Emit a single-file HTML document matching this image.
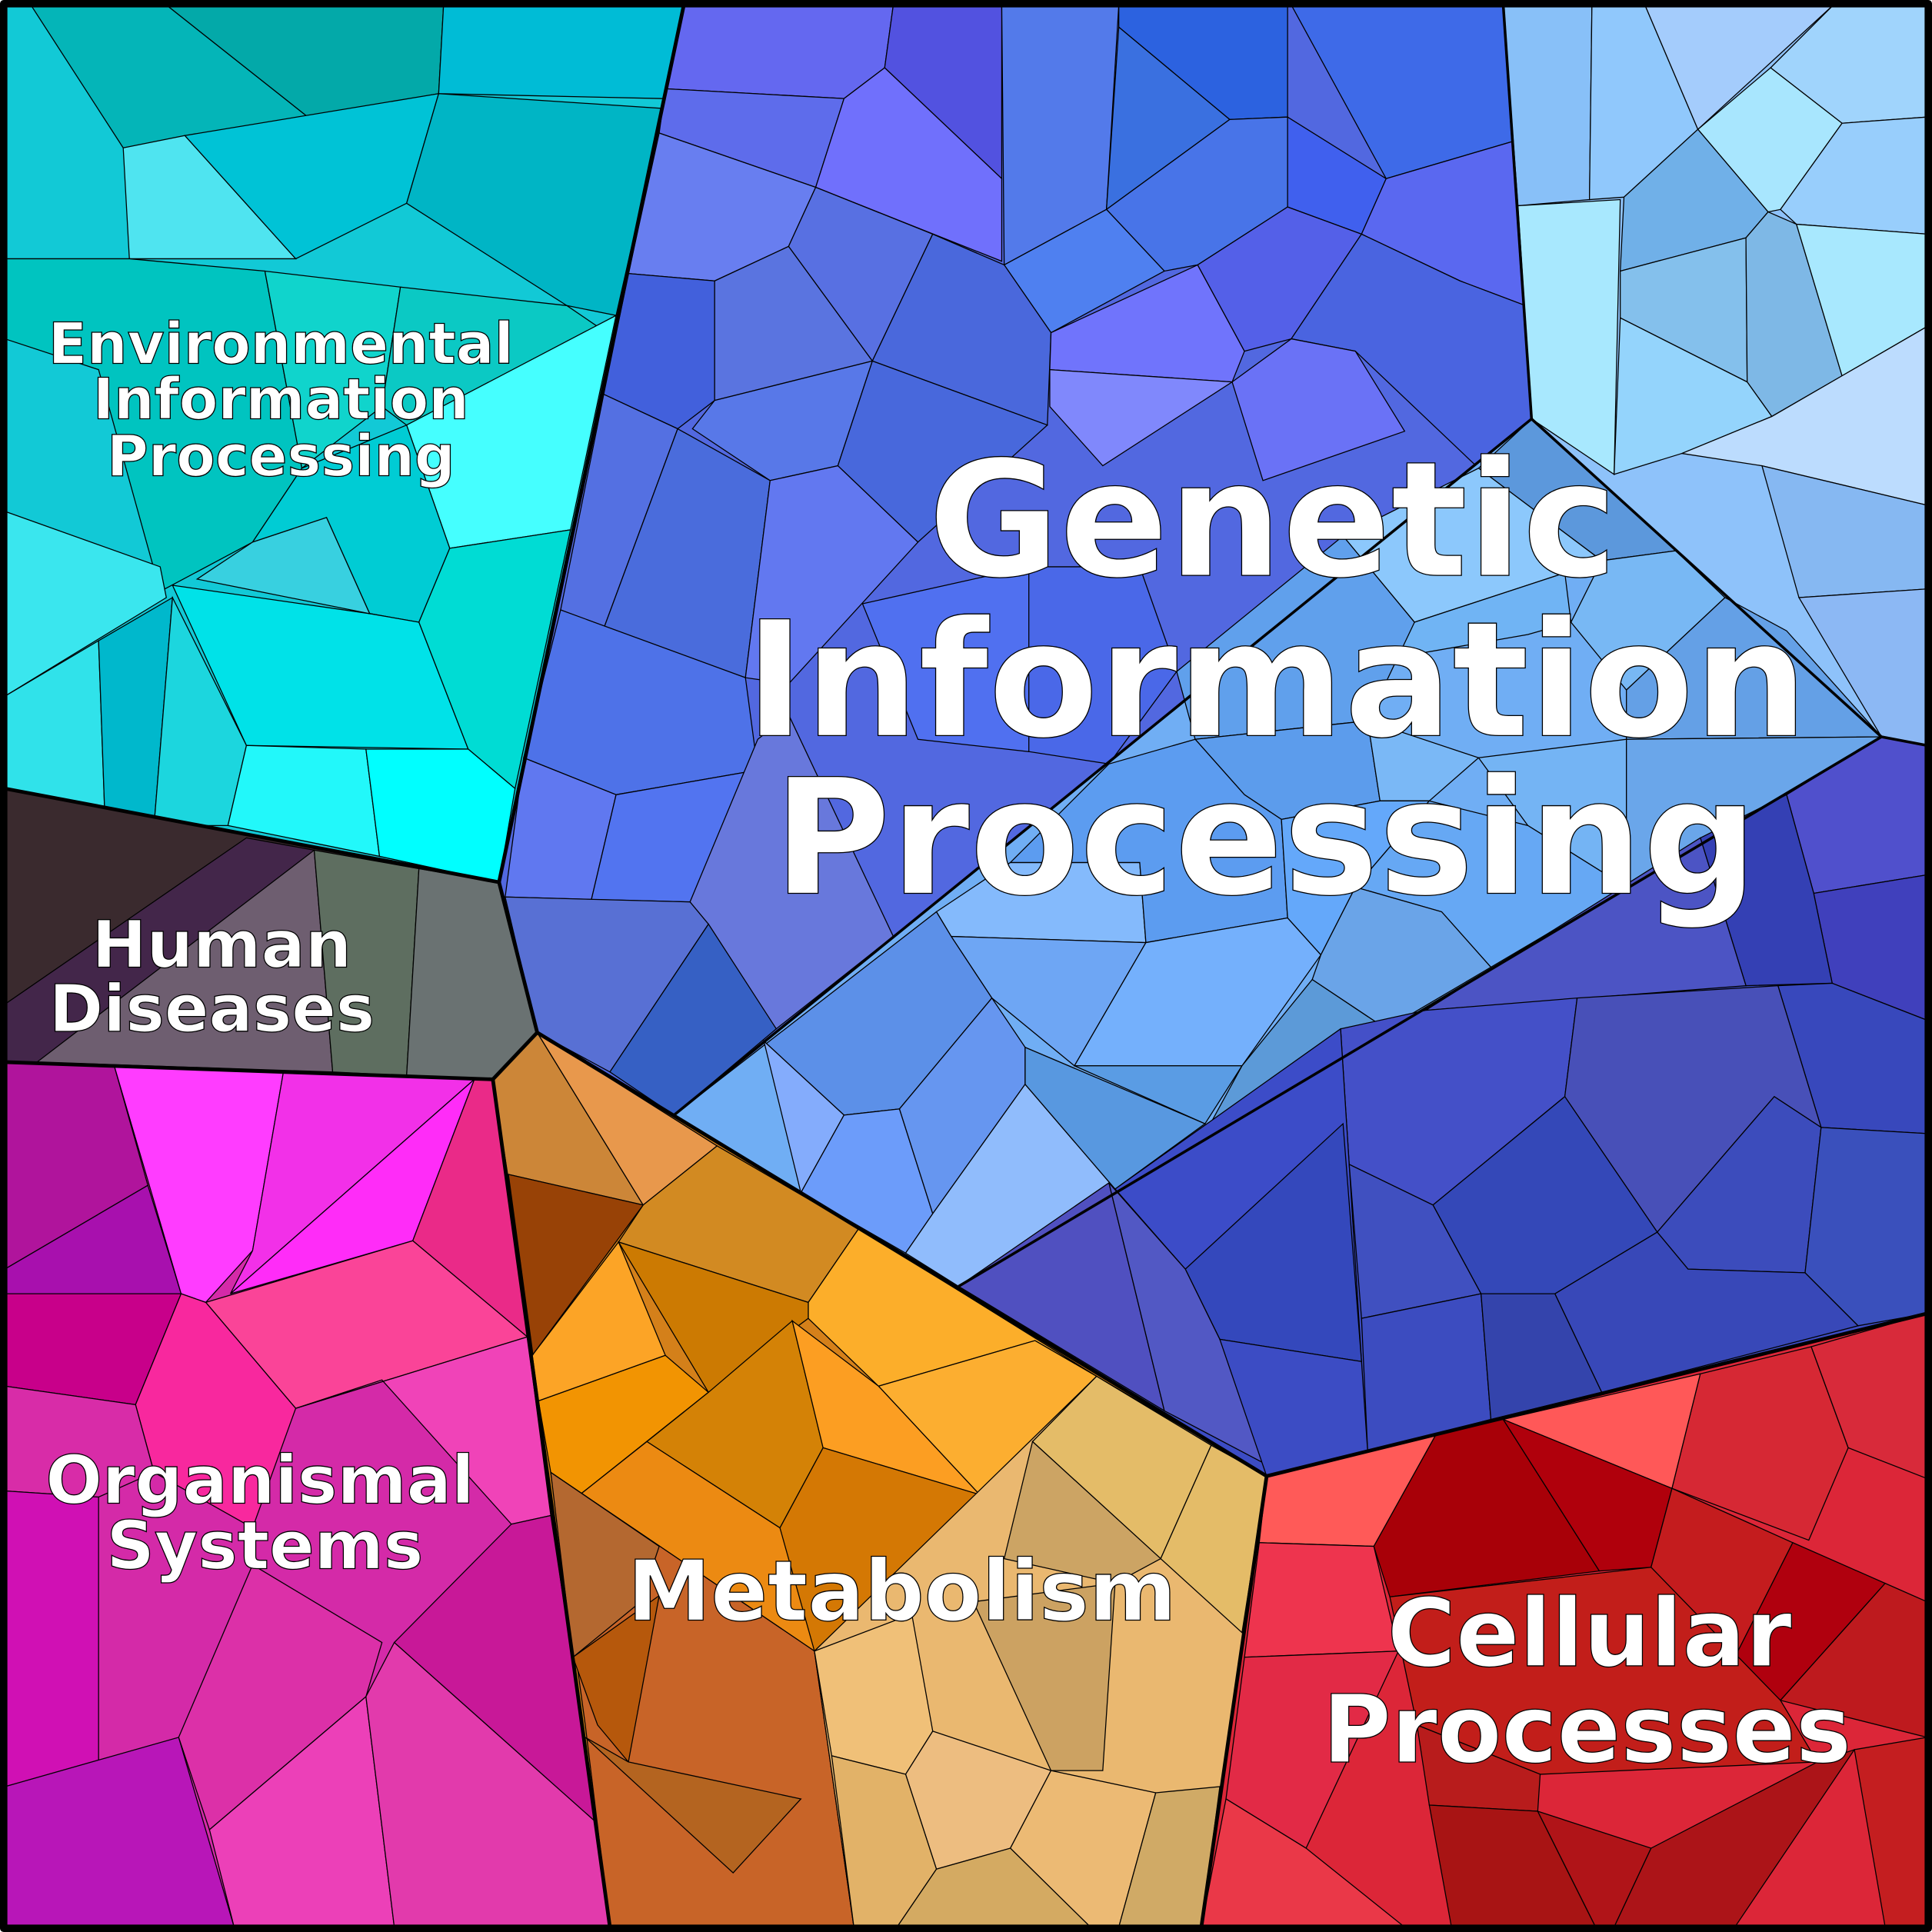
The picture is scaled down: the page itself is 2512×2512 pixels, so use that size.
<!DOCTYPE html>
<html><head><meta charset="utf-8"><style>
html,body{margin:0;padding:0;background:#fff}
svg{display:block}
text{font-family:"DejaVu Sans","Liberation Sans",sans-serif;font-weight:bold;fill:#fff;stroke:#000;stroke-width:0.8;text-anchor:middle;paint-order:normal}
</style></head><body>
<svg width="2512" height="2512" viewBox="0 0 1568 1568" xmlns="http://www.w3.org/2000/svg">
<g stroke="#000" stroke-width="0.8">
<!-- Environmental -->
<polygon points="4,4 555,4 405,716 4,640" fill="#12c9d6"/>
<polygon points="25,4 135,4 250,95 100,120" fill="#04b5b8"/>
<polygon points="135,4 360,4 356,76 250,95" fill="#03a9a9"/>
<polygon points="360,4 555,4 538,80 356,76" fill="#00bcd6"/>
<polygon points="100,120 150,110 240,210 105,210" fill="#4fe4f0"/>
<polygon points="150,110 356,76 330,165 240,210" fill="#00c3d6"/>
<polygon points="356,76 538,88 500,256 460,248 330,165" fill="#00b5c5"/>
<polygon points="105,210 215,220 245,380 205,440 130,480 80,300 4,275 4,210" fill="#00c4c0"/>
<polygon points="215,220 325,233 310,330 245,380" fill="#10d4cc"/>
<polygon points="325,233 460,248 485,265 330,345 310,330" fill="#0bc9c4"/>
<polygon points="330,345 500,256 463,430 365,445" fill="#45ffff"/>
<polygon points="245,380 330,345 365,445 340,505 300,498 265,420 205,440" fill="#00ccd4"/>
<polygon points="4,415 130,460 135,485 4,565" fill="#3ae6ee"/>
<polygon points="4,565 80,520 85,660 4,640" fill="#30e2ea"/>
<polygon points="80,520 140,485 125,670 85,660" fill="#00b8cc"/>
<polygon points="140,485 200,605 185,670 125,670" fill="#1cd6de"/>
<polygon points="140,475 300,498 340,505 380,608 200,605" fill="#00e2e8"/>
<polygon points="340,505 365,445 463,430 418,640 380,608" fill="#00dcd4"/>
<polygon points="200,605 297,608 308,695 185,670" fill="#22f8fa"/>
<polygon points="297,608 380,608 418,640 405,716 308,695" fill="#00ffff"/>
<polygon points="160,470 205,440 265,420 300,498" fill="#38d0e0"/>
<!-- Human Diseases -->
<polygon points="4,640 405,716 436,838 400,876 4,862" fill="#3a2a2e"/>
<polygon points="4,815 200,680 255,690 270,870 30,862 4,862" fill="#43264a"/>
<polygon points="30,862 255,690 270,870" fill="#6e5e70"/>
<polygon points="255,690 340,705 330,873 270,870" fill="#5e6e60"/>
<polygon points="340,705 405,716 436,838 400,876 330,873" fill="#6a7272"/>
<!-- Organismal -->
<polygon points="4,862 400,876 495,1564 4,1564" fill="#d42aa8"/>
<polygon points="4,862 93,866 120,962 4,1030" fill="#b0149c"/>
<polygon points="4,1030 120,962 147,1050 4,1050" fill="#a810ae"/>
<polygon points="93,866 230,870 205,1015 167,1057 147,1050" fill="#ff3cff"/>
<polygon points="230,870 385,876 187,1050 205,1015" fill="#f230e8"/>
<polygon points="385,876 335,1007 187,1050" fill="#ff2cf8"/>
<polygon points="385,876 400,876 428,1085 335,1007" fill="#ea2a88"/>
<polygon points="167,1057 335,1007 428,1085 240,1143" fill="#fa4498"/>
<polygon points="4,1050 147,1050 110,1140 4,1125" fill="#c8008a"/>
<polygon points="147,1050 167,1057 240,1143 205,1240 125,1195 110,1140" fill="#f8289e"/>
<polygon points="240,1143 428,1085 447,1230 415,1237 310,1120" fill="#f043b8"/>
<polygon points="4,1125 110,1140 125,1195 80,1215 4,1210" fill="#d82ca8"/>
<polygon points="4,1210 80,1215 80,1430 4,1450" fill="#d010b4"/>
<polygon points="4,1450 145,1410 190,1564 4,1564" fill="#b816b8"/>
<polygon points="145,1410 205,1270 310,1333 297,1377 170,1485" fill="#dc30a8"/>
<polygon points="170,1485 297,1377 320,1564 190,1564" fill="#ec40b8"/>
<polygon points="297,1377 320,1333 485,1480 495,1564 320,1564" fill="#e23aac"/>
<polygon points="320,1333 415,1237 447,1230 485,1480" fill="#c81898"/>
<!-- Metabolism -->
<polygon points="400,876 436,838 1028,1198 975,1564 495,1564" fill="#d4801a"/>
<polygon points="400,876 436,838 522,978 412,953" fill="#cc8638"/>
<polygon points="436,838 582,930 522,978" fill="#e8984c"/>
<polygon points="412,953 522,978 432,1100" fill="#984206"/>
<polygon points="522,978 582,930 697,997 656,1057 502,1008" fill="#d28a22"/>
<polygon points="697,997 890,1117 840,1088 713,1125 656,1070 656,1057" fill="#fcae2a"/>
<polygon points="713,1125 840,1088 890,1117 795,1213" fill="#fcae30"/>
<polygon points="432,1100 502,1008 540,1100 437,1137" fill="#fca426"/>
<polygon points="502,1008 656,1057 656,1070 575,1130" fill="#cc7a02"/>
<polygon points="437,1137 540,1100 575,1130 472,1212 447,1195" fill="#f29402"/>
<polygon points="575,1130 643,1072 668,1175 633,1240 525,1170" fill="#d48206"/>
<polygon points="643,1072 713,1125 795,1213 668,1175" fill="#fc9e22"/>
<polygon points="472,1212 525,1170 633,1240 672,1335 661,1340" fill="#ec8a12"/>
<polygon points="668,1175 795,1213 661,1340 633,1240" fill="#d47804"/>
<polygon points="447,1195 661,1340 693,1564 495,1564 475,1400" fill="#c86428"/>
<polygon points="447,1195 535,1255 520,1300 465,1345" fill="#b46830"/>
<polygon points="465,1345 535,1295 510,1430 485,1400" fill="#b6580c"/>
<polygon points="510,1430 650,1460 595,1520 475,1410" fill="#b46420"/>
<polygon points="890,1117 1028,1198 975,1564 693,1564 661,1340" fill="#eab870"/>
<polygon points="890,1117 983,1173 942,1265 838,1170" fill="#e4bc68"/>
<polygon points="983,1173 1028,1198 1008,1325 942,1265" fill="#e4bc68"/>
<polygon points="838,1170 942,1265 905,1285 815,1265" fill="#cca464"/>
<polygon points="790,1300 905,1285 895,1437 853,1437" fill="#cca262"/>
<polygon points="661,1340 740,1310 757,1405 735,1440 675,1425" fill="#f0c078"/>
<polygon points="757,1405 853,1437 820,1500 760,1517 735,1440" fill="#edbd80"/>
<polygon points="675,1425 735,1440 760,1517 728,1564 693,1564" fill="#e2b268"/>
<polygon points="853,1437 938,1455 908,1564 885,1564 820,1500" fill="#ecba74"/>
<polygon points="938,1455 990,1450 975,1564 908,1564" fill="#d0aa66"/>
<polygon points="760,1517 820,1500 885,1564 728,1564" fill="#d4aa62"/>
<!-- Cellular -->
<polygon points="1028,1198 1564,1066 1564,1564 975,1564" fill="#dc2638"/>
<polygon points="1028,1198 1165,1165 1115,1255 1022,1252" fill="#ff5a58"/>
<polygon points="1220,1152 1380,1115 1357,1208" fill="#ff5858"/>
<polygon points="1380,1115 1470,1093 1500,1175 1468,1250 1357,1208" fill="#d62834"/>
<polygon points="1470,1093 1564,1066 1564,1200 1500,1175" fill="#d82a3a"/>
<polygon points="1165,1165 1220,1152 1298,1275 1128,1296 1115,1255" fill="#a80008"/>
<polygon points="1220,1152 1357,1208 1340,1272 1298,1275" fill="#b0000c"/>
<polygon points="1357,1208 1455,1252 1408,1345 1340,1272" fill="#c41c1e"/>
<polygon points="1455,1252 1530,1285 1445,1380 1408,1345" fill="#b0000e"/>
<polygon points="1530,1285 1564,1300 1564,1410 1445,1380" fill="#be1a1e"/>
<polygon points="1128,1296 1340,1272 1445,1380 1475,1430 1250,1440 1150,1400" fill="#c21e1a"/>
<polygon points="1150,1400 1250,1440 1248,1470 1160,1465" fill="#b81c1c"/>
<polygon points="1160,1465 1248,1470 1295,1564 1178,1564" fill="#a81414"/>
<polygon points="1248,1470 1340,1500 1310,1564 1295,1564" fill="#b01418"/>
<polygon points="1340,1500 1475,1430 1505,1420 1408,1564 1310,1564" fill="#ac1418"/>
<polygon points="1505,1420 1564,1410 1564,1564 1530,1564" fill="#c41e20"/>
<polygon points="1022,1252 1115,1255 1135,1340 1010,1345" fill="#ee344e"/>
<polygon points="1010,1345 1135,1340 1060,1500 995,1460" fill="#e22a46"/>
<polygon points="995,1460 1060,1500 1140,1564 975,1564" fill="#ea3848"/>
<!-- Genetic -->
<polygon points="555,4 1564,4 1564,1066 1028,1198 436,838 405,716" fill="#5268e0"/>
<polygon points="555,4 725,4 718,55 685,80 540,72" fill="#6468f0"/>
<polygon points="725,4 813,4 813,145 718,55" fill="#5252e0"/>
<polygon points="540,72 685,80 662,152 535,108" fill="#5e6ceb"/>
<polygon points="685,80 718,55 813,145 813,212 662,152" fill="#7070fc"/>
<polygon points="813,4 908,4 898,170 815,215" fill="#537aea"/>
<polygon points="908,4 1045,4 1045,95 998,97 908,22" fill="#2c62e0"/>
<polygon points="908,22 998,97 898,170" fill="#3a70e0"/>
<polygon points="1045,4 1220,4 1227,115 1125,145 1048,4" fill="#3e6ae8"/>
<polygon points="998,97 1045,95 1045,168 972,215 945,220 898,170" fill="#4874e8"/>
<polygon points="815,215 898,170 945,220 853,270" fill="#4f80f0"/>
<polygon points="1045,95 1125,145 1105,190 1045,168" fill="#4060ee"/>
<polygon points="1125,145 1227,115 1238,248 1185,228 1105,190" fill="#5a68f0"/>
<polygon points="535,108 662,152 640,200 580,228 510,222" fill="#687ef0"/>
<polygon points="662,152 757,190 708,293 640,200" fill="#5870e2"/>
<polygon points="757,190 815,215 853,270 850,345 708,293" fill="#4a68dc"/>
<polygon points="853,270 972,215 1010,285 1000,310 852,300" fill="#7074fc"/>
<polygon points="972,215 1045,168 1105,190 1048,275 1010,285" fill="#5460e8"/>
<polygon points="1105,190 1185,228 1238,248 1243,340 1200,380 1100,285 1048,275" fill="#4a64e0"/>
<polygon points="852,300 1000,310 895,378 852,330" fill="#8088fc"/>
<polygon points="1000,310 1048,275 1100,285 1140,350 1025,390" fill="#6a72f6"/>
<polygon points="510,222 580,228 580,325 550,348 490,320" fill="#4260dc"/>
<polygon points="580,228 640,200 708,293 580,325" fill="#5a74e0"/>
<polygon points="580,325 708,293 680,378 625,390 562,348" fill="#5878e8"/>
<polygon points="708,293 850,345 745,440 680,378" fill="#4868dc"/>
<polygon points="490,320 550,348 490,510 455,495" fill="#5470e2"/>
<polygon points="550,348 625,390 605,550 490,510" fill="#4a6cdc"/>
<polygon points="625,390 680,378 745,440 640,555 605,550" fill="#6278f0"/>
<polygon points="455,495 605,550 615,625 500,645 425,615" fill="#4e72e8"/>
<polygon points="425,615 500,645 480,730 410,728" fill="#6078f0"/>
<polygon points="500,645 615,625 560,732 480,730" fill="#5274f0"/>
<polygon points="615,600 640,580 725,760 630,835 560,732" fill="#6878dc"/>
<polygon points="410,728 560,732 575,750 495,870 436,838" fill="#5870d4"/>
<polygon points="575,750 630,835 547,905 495,870" fill="#3660c4"/>
<polygon points="700,490 835,460 850,550 835,610 745,600" fill="#5070f0"/>
<polygon points="835,460 925,460 955,545 900,620 835,610" fill="#4a68e8"/>
<!-- Light blue top right -->
<polygon points="1220,4 1564,4 1564,605 1527,598 1243,340" fill="#8ec2fa"/>
<polygon points="1220,4 1292,4 1290,162 1232,167" fill="#88c0f8"/>
<polygon points="1292,4 1335,4 1378,105 1318,160 1290,162" fill="#90c8fc"/>
<polygon points="1335,4 1488,4 1378,105" fill="#a4ccfc"/>
<polygon points="1488,4 1564,4 1564,95 1495,100 1437,55" fill="#a0d4fc"/>
<polygon points="1378,105 1437,55 1495,100 1445,170 1435,172" fill="#a8e6fe"/>
<polygon points="1318,160 1378,105 1435,172 1417,193 1315,220" fill="#70b0e8"/>
<polygon points="1495,100 1564,95 1564,190 1458,182 1445,170" fill="#98cefc"/>
<polygon points="1232,167 1315,162 1310,385 1243,340" fill="#a8e8fe"/>
<polygon points="1315,220 1417,193 1418,310 1315,258" fill="#84c0ec"/>
<polygon points="1417,193 1435,172 1458,182 1495,305 1438,338 1418,310" fill="#7eb8e6"/>
<polygon points="1458,182 1564,190 1564,265 1495,305" fill="#a8e8fe"/>
<polygon points="1315,258 1418,310 1438,338 1365,368 1310,385" fill="#94d4fc"/>
<polygon points="1495,305 1564,265 1564,410 1430,378 1365,368 1438,338" fill="#bcdcfe"/>
<polygon points="1430,378 1564,410 1564,478 1460,485" fill="#86b8f2"/>
<polygon points="1460,485 1564,478 1564,605 1527,598" fill="#8cb8f4"/>
<!-- middle diagonal band -->
<polygon points="547,905 1243,340 1527,598 778,1044" fill="#70aef4"/>
<polygon points="1243,340 1360,447 1300,455 1200,380" fill="#5c98dc"/>
<polygon points="1090,435 1200,380 1300,455 1270,465 1148,505" fill="#8cc8fc"/>
<polygon points="1148,505 1270,465 1275,505 1240,515 1125,535" fill="#70b4f4"/>
<polygon points="1300,455 1360,447 1400,485 1320,560 1275,505" fill="#78b8f4"/>
<polygon points="1400,485 1450,512 1527,598 1320,600 1320,560" fill="#64a0e6"/>
<polygon points="955,545 1090,435 1148,505 1110,585 970,600" fill="#60a0ec"/>
<polygon points="970,600 1110,585 1120,650 1040,665 1010,645" fill="#5c9cec"/>
<polygon points="1110,585 1200,615 1160,650 1120,650" fill="#7ab8f6"/>
<polygon points="1200,615 1320,600 1320,720 1240,670" fill="#74b4f4"/>
<polygon points="1320,600 1527,598 1400,675 1320,720" fill="#6aa6ea"/>
<polygon points="760,740 820,700 925,700 930,765 772,760" fill="#84bafc"/>
<polygon points="820,700 900,620 970,600 1010,645 1040,665 1045,745 930,765 925,700" fill="#5c9cf0"/>
<polygon points="1040,665 1120,650 1160,650 1100,720 1072,775 1045,745" fill="#64a8fa"/>
<polygon points="1160,650 1240,670 1320,720 1210,785 1170,740 1100,720" fill="#66a8f4"/>
<polygon points="772,760 930,765 872,865 805,810" fill="#6ea6f4"/>
<polygon points="930,765 1045,745 1072,775 1008,865 872,865" fill="#74b0fc"/>
<polygon points="1072,775 1100,720 1170,740 1210,785 1125,835 1065,795" fill="#6aa4e8"/>
<polygon points="547,905 760,740 772,760 805,810 730,900 685,905 620,845" fill="#5c90e8"/>
<polygon points="620,845 685,905 650,968" fill="#84acfc"/>
<polygon points="685,905 730,900 757,985 735,1017 650,968" fill="#6c9cfa"/>
<polygon points="730,900 805,810 832,850 832,880 757,985" fill="#6696f0"/>
<polygon points="832,880 905,965 778,1044 735,1017 757,985" fill="#90bcfc"/>
<polygon points="832,850 978,912 905,965 832,880" fill="#5898e0"/>
<polygon points="872,865 1008,865 978,912" fill="#5a9ce4"/>
<polygon points="1008,865 1065,795 1125,835 978,920" fill="#5c9ad8"/>
<!-- Dark blue bottom -->
<polygon points="778,1044 1527,598 1564,605 1564,1066 1028,1198" fill="#3c4cc4"/>
<polygon points="1450,645 1527,598 1564,605 1564,710 1472,725" fill="#5050cc"/>
<polygon points="1472,725 1564,710 1564,828 1487,798" fill="#4040bc"/>
<polygon points="1380,680 1450,645 1472,725 1487,798 1417,800" fill="#3440b4"/>
<polygon points="1157,820 1380,680 1417,800" fill="#4c54c4"/>
<polygon points="1487,798 1564,828 1564,920 1478,915 1443,800" fill="#3848bc"/>
<polygon points="1088,835 1157,820 1280,810 1270,890 1163,978 1095,945" fill="#4450c8"/>
<polygon points="1280,810 1443,800 1478,915 1440,890 1345,1000 1270,890" fill="#4850b8"/>
<polygon points="1163,978 1270,890 1345,1000 1262,1050 1202,1050" fill="#3448b8"/>
<polygon points="1345,1000 1440,890 1478,915 1465,1033 1370,1030" fill="#3c4cbc"/>
<polygon points="1478,915 1564,920 1564,1066 1508,1076 1465,1033" fill="#3a50bc"/>
<polygon points="905,965 1088,835 1095,945 1105,1105 990,1087 962,1030" fill="#3c4cc8"/>
<polygon points="962,1030 1090,912 1105,1105 990,1087" fill="#3448bc"/>
<polygon points="1095,945 1163,978 1202,1050 1105,1070" fill="#4050c0"/>
<polygon points="1105,1070 1202,1050 1210,1152 1110,1178" fill="#3c4cc0"/>
<polygon points="1202,1050 1262,1050 1300,1130 1210,1152" fill="#3444ac"/>
<polygon points="1262,1050 1345,1000 1370,1030 1465,1033 1508,1076 1300,1130" fill="#3848b8"/>
<polygon points="778,1044 900,960 945,1145" fill="#5050c0"/>
<polygon points="900,960 962,1030 990,1087 1040,1195 945,1145" fill="#5258c4"/>
<polygon points="990,1087 1105,1105 1110,1178 1028,1198" fill="#3c4cc4"/>
</g>
<!-- major boundaries -->
<g fill="none" stroke="#000" stroke-width="3" stroke-linejoin="round">
<polyline points="555,4 405,716 4,640"/>
<polyline points="405,716 436,838 400,876 4,862"/>
<polyline points="400,876 495,1564"/>
<polyline points="436,838 1028,1198 975,1564"/>
<polyline points="1028,1198 1564,1066"/>
<polyline points="547,905 1243,340 1527,598 1564,605" stroke-width="2.2"/>
<polyline points="778,1044 1527,598" stroke-width="2.2"/>
<polyline points="1220,4 1243,340" stroke-width="2.2"/>
<polyline points="412,953 432,1100" stroke-width="2"/>
<rect x="3" y="3" width="1562" height="1562" stroke-width="6"/>
</g>
<text x="228" y="295" font-size="46">Environmental</text>
<text x="228" y="340" font-size="46">Information</text>
<text x="228" y="386" font-size="46">Processing</text>
<text x="1033" y="467" font-size="130" stroke-width="1">Genetic</text>
<text x="1036" y="597" font-size="130" stroke-width="1">Information</text>
<text x="1027" y="725" font-size="130" stroke-width="1">Processing</text>
<text x="180" y="785" font-size="53">Human</text>
<text x="172" y="837" font-size="53">Diseases</text>
<text x="211" y="1220" font-size="54">Organismal</text>
<text x="215" y="1273" font-size="54">Systems</text>
<text x="732" y="1315" font-size="68">Metabolism</text>
<text x="1290" y="1352" font-size="76">Cellular</text>
<text x="1288" y="1430" font-size="76">Processes</text>
</svg>
</body></html>
